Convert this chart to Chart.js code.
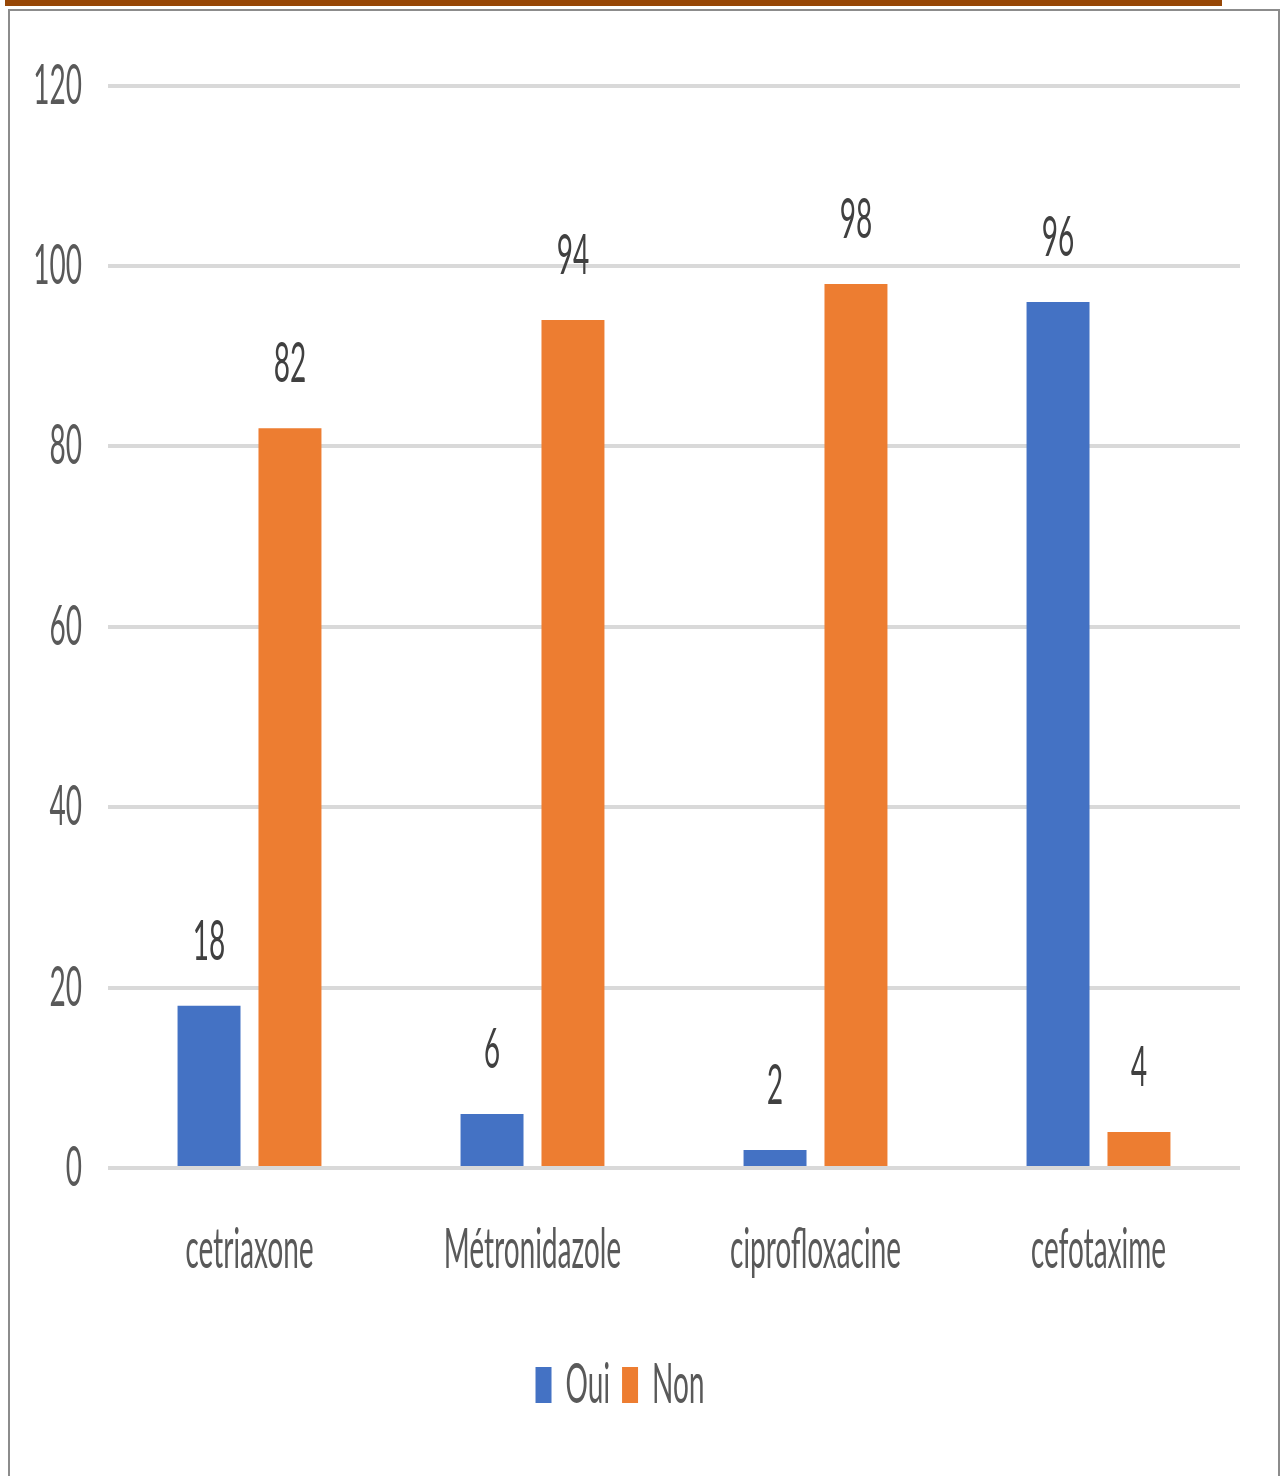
<!DOCTYPE html>
<html>
<head>
<meta charset="utf-8">
<script src="https://cdn.jsdelivr.net/npm/chart.js@4.4.1/dist/chart.umd.min.js"></script>
<style>
  html, body { margin: 0; padding: 0; background: #fff; overflow: hidden; }
  body { width: 1282px; height: 1476px; position: relative; }
  .topbar { position: absolute; left: 5px; top: 0; width: 1217px; height: 6px; background: #974706; }
  .frame { position: absolute; left: 8px; top: 9px; width: 1268px; height: 1480px;
           border: 2px solid #8c8c8c; border-bottom: none; }
  .wrap { position: absolute; left: 0; top: 0; width: 1282px; height: 738px;
          transform: scaleY(2); transform-origin: 0 0; }
</style>
</head>
<body>
<div class="topbar"></div>
<div class="frame"></div>
<div class="wrap"><canvas id="antibioChart" width="1282" height="738"></canvas></div>
<script>
// valeurs du graphique
const labels = ['cetriaxone', 'Métronidazole', 'ciprofloxacine', 'cefotaxime'];
const oui = [18, 6, 2, 96];
const non = [82, 94, 98, 4];
const yTicks = [0, 20, 40, 60, 80, 100, 120];

const fontFamily = 'Lato, "Open Sans", sans-serif';

// étiquettes de valeur au-dessus des barres
const valeurLabels = {
    id: 'valeurLabels',
    afterDatasetsDraw(chart) {
        const ctx = chart.ctx;
        ctx.save();
        ctx.font = '28px ' + fontFamily;
        ctx.fillStyle = '#404040';
        ctx.textAlign = 'center';
        ctx.textBaseline = 'middle';
        chart.data.datasets.forEach(function(ds, i) {
            chart.getDatasetMeta(i).data.forEach(function(bar, j) {
                ctx.fillText(ds.data[j], bar.x, bar.y - 32);
            });
        });
        ctx.restore();
    }
};

const ctx = document.getElementById('antibioChart').getContext('2d');
new Chart(ctx, {
    type: 'bar',
    data: {
        labels: labels,
        datasets: [{
            label: 'Oui',
            data: oui,
            backgroundColor: 'rgb(68, 114, 196)',
            categoryPercentage: 0.572,
            barPercentage: 0.778
        }, {
            label: 'Non',
            data: non,
            backgroundColor: 'rgb(237, 125, 49)',
            categoryPercentage: 0.572,
            barPercentage: 0.778
        }]
    },
    options: {
        responsive: false,
        animation: false,
        devicePixelRatio: 2,
        layout: {
            padding: { left: 0, right: 42, top: 41, bottom: 21.5 }
        },
        scales: {
            x: {
                grid: { display: false },
                border: { display: false },
                ticks: {
                    color: '#595959',
                    font: { family: fontFamily, size: 28 },
                    padding: 16
                },
                afterFit: function(scale) {
                    scale.height = 82.5;
                }
            },
            y: {
                min: 0,
                max: 120,
                afterBuildTicks: function(scale) {
                    scale.ticks = yTicks.map(function(v) { return { value: v }; });
                },
                grid: {
                    color: '#d9d9d9',
                    lineWidth: 2,
                    drawTicks: false
                },
                border: { display: false },
                ticks: {
                    color: '#595959',
                    font: { family: fontFamily, size: 28 },
                    padding: 26
                },
                afterFit: function(scale) {
                    scale.width = 108;
                }
            }
        },
        plugins: {
            legend: {
                position: 'bottom',
                labels: {
                    color: '#595959',
                    font: { family: fontFamily, size: 28 },
                    boxWidth: 16,
                    boxHeight: 18,
                    padding: 12
                }
            },
            tooltip: { enabled: false }
        }
    },
    plugins: [valeurLabels]
});
</script>
</body>
</html>
